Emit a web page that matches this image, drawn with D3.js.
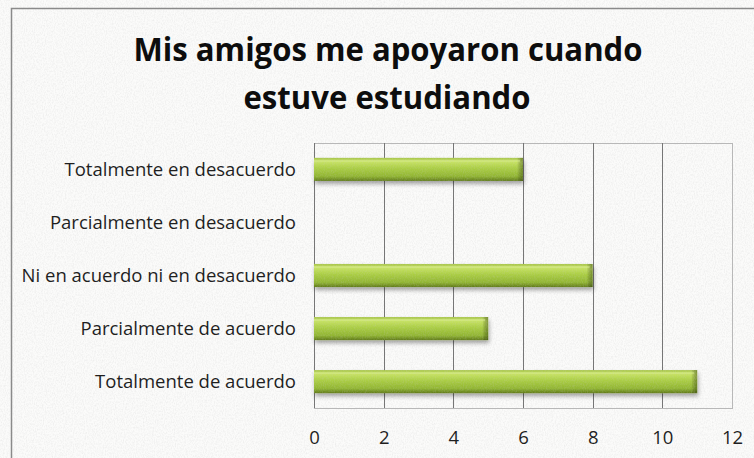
<!DOCTYPE html>
<html>
<head>
<meta charset="utf-8">
<script src="https://cdn.jsdelivr.net/npm/d3@7"></script>
<style>
  html, body { margin: 0; padding: 0; background: #ffffff; }
  svg { display: block; }
</style>
</head>
<body>
<div id="chart"></div>
<script>
// Survey answers: number of respondents per option
const categories = [
  "Totalmente en desacuerdo",
  "Parcialmente en desacuerdo",
  "Ni en acuerdo ni en desacuerdo",
  "Parcialmente de acuerdo",
  "Totalmente de acuerdo"
];
const counts = [6, 0, 8, 5, 11];
const xTicks = [0, 2, 4, 6, 8, 10, 12];
const titleLines = ["Mis amigos me apoyaron cuando", "estuve estudiando"];

const W = 754, H = 458;
const plot = { left: 314, right: 732, top: 143, bottom: 408 };

const svg = d3.select("#chart").append("svg")
  .attr("width", W).attr("height", H);

const defs = svg.append("defs");

// Linen-like paper texture
const tex = defs.append("filter").attr("id", "linen")
  .attr("x", 0).attr("y", 0).attr("width", "100%").attr("height", "100%");
tex.append("feTurbulence").attr("type", "fractalNoise")
  .attr("baseFrequency", "0.9 0.55").attr("numOctaves", 2).attr("seed", 4).attr("result", "n");
tex.append("feColorMatrix").attr("in", "n").attr("type", "matrix")
  .attr("values", "0 0 0 0 0.6  0 0 0 0 0.6  0 0 0 0 0.6  0 0 0 -1.2 0.75");

// Bar fill: green tube with highlight at top, darker underside
const grad = defs.append("linearGradient").attr("id", "barGrad")
  .attr("x1", 0).attr("y1", 0).attr("x2", 0).attr("y2", 1);
[["0%", "#a8c64a"], ["18%", "#c6e262"], ["45%", "#abce44"], ["80%", "#91b532"], ["100%", "#607b1c"]]
  .forEach(([o, c]) => grad.append("stop").attr("offset", o).attr("stop-color", c));

const endGrad = defs.append("linearGradient").attr("id", "endGrad")
  .attr("x1", 0).attr("y1", 0).attr("x2", 1).attr("y2", 0);
endGrad.append("stop").attr("offset", "0%").attr("stop-color", "#000").attr("stop-opacity", 0);
endGrad.append("stop").attr("offset", "100%").attr("stop-color", "#2e3d08").attr("stop-opacity", 0.45);

const shadow = defs.append("filter").attr("id", "barShadow")
  .attr("x", "-5%").attr("y", "-30%").attr("width", "110%").attr("height", "180%");
shadow.append("feDropShadow").attr("dx", 1).attr("dy", 3).attr("stdDeviation", 2.2)
  .attr("flood-color", "#000").attr("flood-opacity", 0.35);

// Background
svg.append("rect").attr("x", 0).attr("y", 0).attr("width", W).attr("height", H).attr("fill", "#fbfbfa");
svg.append("rect").attr("x", 0).attr("y", 0).attr("width", W).attr("height", H)
  .attr("filter", "url(#linen)").attr("opacity", 0.45);

// Chart frame (continues past the right and bottom edges)
svg.append("rect").attr("x", 11.5).attr("y", 8.5).attr("width", W + 10).attr("height", H + 10)
  .attr("fill", "none").attr("stroke", "#8a8a8a").attr("stroke-width", 1.5);

// Title
const title = svg.append("text")
  .attr("text-anchor", "middle")
  .attr("font-family", "'Open Sans', sans-serif")
  .attr("font-weight", "bold")
  .attr("font-size", 32)
  .attr("fill", "#0d0d0d");
title.append("tspan").attr("x", 388).attr("y", 61).text(titleLines[0])
  .attr("textLength", 509).attr("lengthAdjust", "spacingAndGlyphs");
title.append("tspan").attr("x", 387).attr("y", 109).text(titleLines[1])
  .attr("textLength", 287).attr("lengthAdjust", "spacingAndGlyphs");

// Scales
const x = d3.scaleLinear().domain([0, 12]).range([plot.left, plot.right]);
const y = d3.scaleBand().domain(categories).range([plot.top, plot.bottom]).paddingInner(0.565).paddingOuter(0.28);

// Plot area outline
svg.append("rect")
  .attr("x", plot.left + 0.5).attr("y", plot.top + 0.5)
  .attr("width", plot.right - plot.left).attr("height", plot.bottom - plot.top)
  .attr("fill", "none").attr("stroke", "#b8b8b8").attr("stroke-width", 1);

// Vertical gridlines
svg.append("g").selectAll("line").data(xTicks).join("line")
  .attr("x1", d => Math.round(x(d)) + 0.5).attr("x2", d => Math.round(x(d)) + 0.5)
  .attr("y1", plot.top).attr("y2", plot.bottom)
  .attr("stroke", d => (d === 12 ? "#b8b8b8" : "#767676")).attr("stroke-width", 1);

// X axis labels
const xAxis = d3.axisBottom(x).tickValues(xTicks).tickSize(0).tickPadding(0).tickFormat(d3.format("d"));
const gx = svg.append("g").attr("transform", `translate(0,${plot.bottom})`).call(xAxis);
gx.select(".domain").remove();
gx.selectAll("text")
  .attr("y", 36)
  .attr("dy", 0)
  .attr("font-family", "'Open Sans', sans-serif")
  .attr("font-size", 18.5)
  .attr("fill", "#1f1f1f");

// Y axis labels
const yAxis = d3.axisLeft(y).tickSize(0).tickPadding(18);
const gy = svg.append("g").attr("transform", `translate(${plot.left},0)`).call(yAxis);
gy.select(".domain").remove();
gy.selectAll("text")
  .attr("dy", "0.36em")
  .attr("font-family", "'Open Sans', sans-serif")
  .attr("font-size", 18.5)
  .attr("fill", "#1f1f1f");

// Bars
const bars = svg.append("g").selectAll("g").data(categories.map((c, i) => ({ c, v: counts[i] })).filter(d => d.v > 0))
  .join("g");
bars.append("rect")
  .attr("x", x(0)).attr("y", d => y(d.c))
  .attr("width", d => x(d.v) - x(0)).attr("height", y.bandwidth())
  .attr("fill", "url(#barGrad)").attr("filter", "url(#barShadow)");
// Bevelled right end
bars.append("rect")
  .attr("x", d => x(d.v) - 6).attr("y", d => y(d.c))
  .attr("width", 6).attr("height", y.bandwidth())
  .attr("fill", "url(#endGrad)");
// Thin highlight along the top edge
bars.append("rect")
  .attr("x", x(0)).attr("y", d => y(d.c) + 2)
  .attr("width", d => x(d.v) - x(0) - 3).attr("height", 2)
  .attr("fill", "#e2f59a").attr("opacity", 0.45);
// Grain on bars
bars.append("rect")
  .attr("x", x(0)).attr("y", d => y(d.c))
  .attr("width", d => x(d.v) - x(0)).attr("height", y.bandwidth())
  .attr("filter", "url(#linen)").attr("opacity", 0.35);
</script>
</body>
</html>
